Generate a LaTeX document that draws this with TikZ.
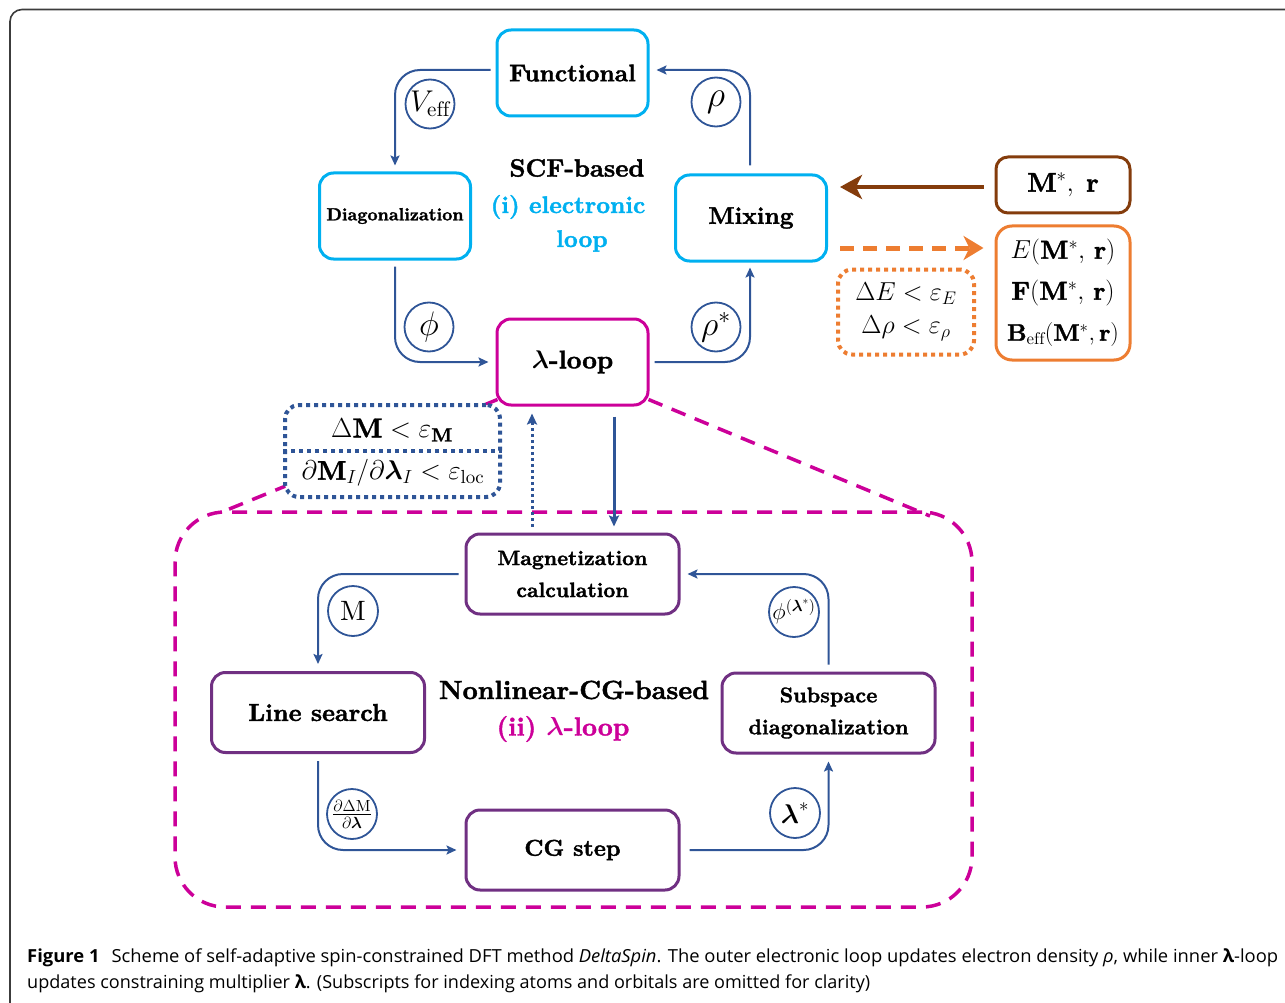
\documentclass[tikz,border=0pt]{standalone}
\usepackage{fix-cm}
\usepackage{amsmath,amssymb}
\usepackage{fontspec}
\usepackage{graphicx}
\setmainfont{lmroman10-regular.otf}[BoldFont=lmroman10-bold.otf,ItalicFont=lmroman10-italic.otf,BoldFeatures={FakeBold=1.6}]
\newfontfamily\capfont{Open Sans}[FakeStretch=0.85]
\usetikzlibrary{arrows.meta,calc}
\definecolor{ccyan}{RGB}{0,176,240}
\definecolor{cmag}{RGB}{204,0,153}
\definecolor{cpur}{RGB}{112,48,130}
\definecolor{cblue}{RGB}{47,85,151}
\definecolor{cbrown}{RGB}{132,60,12}
\definecolor{corange}{RGB}{237,125,49}
\definecolor{cframe}{RGB}{60,60,60}
\newcommand{\fs}[2]{\fontsize{#1}{#2}\selectfont}
\tikzset{
  cbox/.style={draw=ccyan,line width=3pt,rounded corners=14pt,minimum width=151pt,minimum height=86pt,align=center,inner sep=0pt},
  pbox/.style={draw=cpur,line width=3pt,rounded corners=14pt,minimum width=213pt,minimum height=80pt,align=center,inner sep=0pt},
  tag/.style={circle,draw=cblue,line width=1.8pt,minimum size=49pt,inner sep=0pt,font=\fs{34}{36}},
  conn/.style={draw=cblue,line width=2pt,rounded corners=25pt,-{Stealth[length=10pt,width=9pt,inset=2pt]}},
  dotbox/.style={line width=4pt,dash pattern=on 4pt off 4pt,rounded corners=14pt},
  magdash/.style={draw=cmag,line width=3.5pt,dash pattern=on 15pt off 10pt},
  plain/.style={inner sep=0pt},
}
\begin{document}
\begin{tikzpicture}[x=1pt,y=-1pt]
\useasboundingbox (0,0) rectangle (1285,1003);
% frame
\draw[cframe,line width=1.6pt,rounded corners=12pt] (1300,9.5) -- (10,9.5) -- (10,1015);

% big dashed region
\node[magdash,rounded corners=50pt,minimum width=797pt,minimum height=395pt] (big) at (573.5,709.5) {};

% upper loop boxes
\node[cbox,font=\fs{24}{28}\bfseries] (func) at (572.5,73) {Functional};
\node[cbox,font=\fs{17.6}{20}\bfseries] (diag) at (395,216) {Diagonalization};
\node[cbox,font=\fs{24}{28}\bfseries] (mix) at (751,218) {Mixing};
\node[cbox,draw=cmag,font=\fs{25.5}{28}\bfseries] (lam) at (572.5,362) {$\boldsymbol{\lambda}$-loop};

\node[plain,font=\fs{25}{28}\bfseries] (scf) at (577,168) {SCF-based};
\node[plain,font=\fs{24}{28}\bfseries,text=ccyan] (el1) at (568,207) {(i) electronic};
\node[plain,font=\fs{24}{28}\bfseries,text=ccyan] (el2) at (582,241) {loop};

% upper connectors
\draw[conn] ([xshift=-5pt,yshift=3pt]func.west) -| ([yshift=6pt]diag.north);
\draw[conn] ([yshift=-6pt]diag.south) |- ([xshift=-7pt]lam.west);
\draw[conn] ([xshift=5pt]lam.east) -| ([xshift=-1pt,yshift=-5pt]mix.south);
\draw[conn] ([xshift=-1pt,yshift=8pt]mix.north) |- ([xshift=7pt,yshift=3pt]func.east);

\node[tag,font=\fs{30}{32}] (tveff) at (430,104) {$V_{\mathrm{eff}}$};
\node[tag,font=\fs{36}{38}] (trho) at (716,102) {$\rho$};
\node[tag] (tphi) at (429,327) {$\phi$};
\node[tag] (trhos) at (716,327) {$\rho^*$};

% right side
\node[draw=cbrown,line width=3pt,rounded corners=12pt,minimum width=134pt,minimum height=56pt,font=\fs{27}{30}] (mr) at (1063,185) {$\mathbf{M}^*,\;\mathbf{r}$};
\node[draw=corange,line width=3pt,rounded corners=16pt,minimum width=134pt,minimum height=134pt,align=center,font=\fs{26}{41}] (ebox) at (1063,293)
  {$E(\mathbf{M}^*,\,\mathbf{r})$\\$\mathbf{F}(\mathbf{M}^*,\,\mathbf{r})$\\{\fs{24}{41}$\mathbf{B}_{\mathrm{eff}}(\mathbf{M}^*,\mathbf{r})$}};
\node[dotbox,draw=corange,minimum width=136pt,minimum height=85pt,align=center,font=\fs{26}{33}] (odot) at (906,312)
  {$\Delta E<\varepsilon_E$\\$\Delta\rho<\varepsilon_\rho$};
\draw[cbrown,line width=4pt,-{Stealth[length=22pt,width=24pt,inset=6pt]}] ([xshift=-11pt,yshift=-2pt]mr.west) -- ([xshift=12pt,yshift=31pt]mix.east);
\draw[corange,line width=5pt,dash pattern=on 14pt off 9pt,-{Stealth[length=20pt,width=24pt,inset=6pt]}] ([xshift=12pt,yshift=-30pt]mix.east) -- ([xshift=-11pt,yshift=45pt]ebox.west);

% callout dashed lines
\coordinate (dl) at (222,512);
\coordinate (dr) at (930,516);
\draw[magdash] ([xshift=2pt,yshift=7pt]lam.south west) -- (dl);
\draw[magdash] ([xshift=-1pt,yshift=7pt]lam.south east) -- (dr);

% blue dotted criteria box
\node[dotbox,draw=cblue,fill=white,minimum width=215pt,minimum height=92pt] (bdot) at (392.5,451) {};
\draw[cblue,line width=4pt,dash pattern=on 4pt off 4pt] (bdot.west) -- (bdot.east);
\node[plain,font=\fs{27.5}{30}] (c1) at (392,430) {$\Delta\mathbf{M}<\varepsilon_{\mathbf{M}}$};
\node[plain,font=\fs{27}{30}] (c2) at (393,473) {$\partial\mathbf{M}_I/\partial\boldsymbol{\lambda}_I<\varepsilon_{\mathrm{loc}}$};

% lower loop boxes
\node[pbox,font=\fs{20.8}{32}\bfseries] (mag) at (572.5,574) {Magnetization\\calculation};
\node[pbox,font=\fs{24.5}{28}\bfseries] (ls) at (318,712.5) {Line search};
\node[pbox,font=\fs{21.2}{32}\bfseries] (sub) at (828.5,713) {Subspace\\diagonalization};
\node[pbox,font=\fs{23}{28}\bfseries] (cg) at (572.5,850) {CG step};

\node[plain,font=\fs{26.3}{30}\bfseries] (ncg) at (574,690) {Nonlinear-CG-based};
\node[plain,font=\fs{26}{30}\bfseries,text=cmag] (ii) at (563,729) {(ii) $\boldsymbol{\lambda}$-loop};

% vertical links between loops
\draw[cblue,line width=3pt,-{Stealth[length=11pt,width=10pt,inset=2pt]}] ($(lam.south)+(41.5,10)$) -- ($(mag.north)+(41.5,-6)$);
\draw[cblue,line width=3pt,dash pattern=on 3pt off 3pt,-{Stealth[length=11pt,width=10pt,inset=2pt]}] ($(mag.north)+(-40.5,-6)$) -- ($(lam.south)+(-40.5,7)$);

% lower connectors
\draw[conn] ([xshift=-6pt]mag.west) -| ([yshift=7pt]ls.north);
\draw[conn] ([yshift=-7pt]ls.south) |- ([xshift=-8pt]cg.west);
\draw[conn] ([xshift=9pt]cg.east) -| ([yshift=-7pt]sub.south);
\draw[conn] ([yshift=7pt]sub.north) |- ([xshift=7pt]mag.east);

\node[tag,minimum size=50pt,font=\fs{28}{30}] (tm) at (353,611) {$\mathrm{M}$};
\node[tag,minimum size=50pt,font=\fs{23}{26}] (tdm) at (352,814) {$\frac{\partial\Delta\mathrm{M}}{\partial\boldsymbol{\lambda}}$};
\node[tag,minimum size=50pt,font=\fs{27}{30}] (tls) at (795,813) {$\boldsymbol{\lambda}^*$};
\node[tag,minimum size=50pt,font=\fs{23}{26}] (tpl) at (794,612) {$\phi^{(\boldsymbol{\lambda}^*)}$};

% caption
\node[anchor=base west,inner sep=0pt] (cap1) at (27,962) {\resizebox{1251pt}{\height}{\capfont\fs{18}{22}\textbf{Figure 1}\hspace{10pt}Scheme of self-adaptive spin-constrained DFT method \textit{DeltaSpin}. The outer electronic loop updates electron density \textit{ρ}, while inner \textbf{λ}-loop}};
\node[anchor=base west,inner sep=0pt] (cap2) at (27,988) {\resizebox{843pt}{\height}{\capfont\fs{18}{22}updates constraining multiplier \textbf{λ}. (Subscripts for indexing atoms and orbitals are omitted for clarity)}};
\end{tikzpicture}
\end{document}
